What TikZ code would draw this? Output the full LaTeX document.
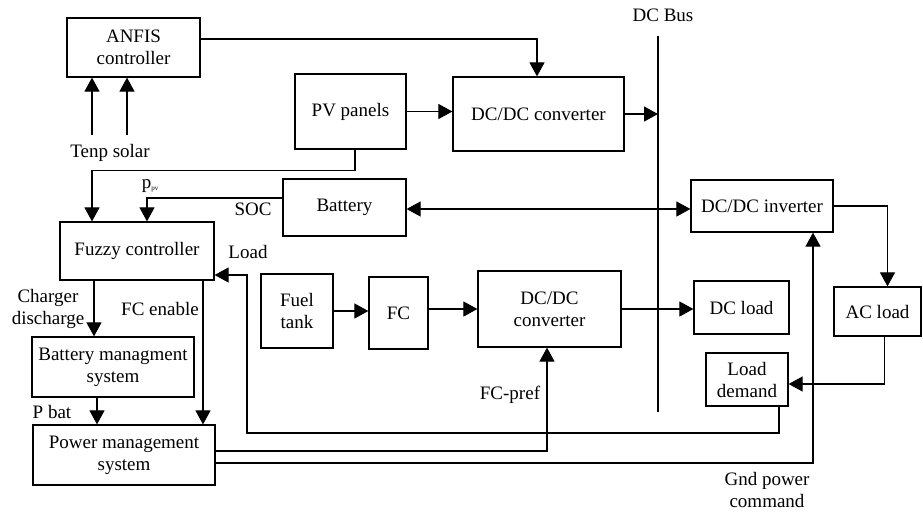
\documentclass[tikz,border=0pt]{standalone}
\usepackage{fontspec}
\setmainfont{Liberation Serif}
\usetikzlibrary{arrows.meta}

\tikzstyle{blk} = [rectangle,align=center,inner sep=0pt,style={draw,line width=1.2pt}]
\tikzstyle{lbl} = [align=center,inner sep=0pt]
\tikzstyle{wire} = [style={line width=1.1pt}]
\tikzstyle{fil} = [-{Triangle[length=14pt,width=15pt]},style={line width=1.1pt}]
\tikzstyle{fil2} = [{Triangle[length=14pt,width=15pt]}-{Triangle[length=14pt,width=15pt]},style={line width=1.1pt}]

\begin{document}
\begin{tikzpicture}[x=1pt,y=-1pt,font=\fontsize{19}{22}\selectfont]
\useasboundingbox (0,0) rectangle (923,512);

% Controllers
	\node[blk,minimum width=133pt,minimum height=59pt] at (133.5,47.5) (anfis) {ANFIS\\controller};
	\node[blk,minimum width=154pt,minimum height=58pt] at (137,251) (fuzzy) {Fuzzy controller};
	\node[blk,minimum width=162pt,minimum height=60pt] at (113,367) (bms) {Battery managment\\system};
	\node[blk,minimum width=182pt,minimum height=60pt] at (124,455) (pms) {Power management\\system};

% Sources
	\node[blk,minimum width=111pt,minimum height=75pt] at (350.5,111.5) (pv) {PV panels};
	\node[blk,minimum width=171pt,minimum height=74pt] at (538.5,114) (conv) {DC/DC converter};
	\node[blk,minimum width=123pt,minimum height=57pt] at (344.5,207.5) (battery) {Battery};
	\node[blk,minimum width=72pt,minimum height=74pt] at (297,311) (tank) {Fuel\\tank};
	\node[blk,minimum width=59pt,minimum height=72pt] at (398.5,313) (fc) {FC};
	\node[blk,minimum width=143pt,minimum height=76pt] at (549.5,309) (convfc) {DC/DC\\converter};

% Loads
	\node[blk,minimum width=142pt,minimum height=52pt] at (762,206) (inverter) {DC/DC inverter};
	\node[blk,minimum width=95pt,minimum height=53pt] at (741.5,307.5) (dcload) {DC load};
	\node[blk,minimum width=87pt,minimum height=49pt] at (877.5,311.5) (acload) {AC load};
	\node[blk,minimum width=82pt,minimum height=53pt] at (747,379.5) (demand) {Load\\demand};

% DC bus
	\coordinate (bustop) at (658,36);
	\coordinate (busbot) at (658,412);
	\draw[wire] (bustop) -- (busbot);
	\node[lbl] at (663,15) (buslbl) {DC Bus};

% Labels
	\node[lbl] at (110,153) (tenp) {Tenp solar};
	\node[lbl] at (150,186) (ppv) {p\raisebox{-2.5pt}{\fontsize{7}{8}\selectfont pv}};
	\node[lbl] at (253,209) (soc) {SOC};
	\node[lbl] at (248,252) (loadlbl) {Load};
	\node[lbl] at (48,309) (chg) {Charger\\discharge};
	\node[lbl] at (160,309) (fcen) {FC enable};
	\node[lbl] at (52,412) (pbat) {P bat};
	\node[lbl] at (510,395) (fcpref) {FC-pref};
	\node[lbl] at (767,490) (gnd) {Gnd power\\command};

% ANFIS inputs and output
	\coordinate (ts1) at (92,135);
	\coordinate (ts2) at (127,135);
	\draw[fil] (ts1) -- (ts1 |- anfis.south);
	\draw[fil] (ts2) -- (ts2 |- anfis.south);
	\draw[fil] ([yshift=8.5pt]anfis.east) -| ([xshift=-1.5pt]conv.north);

% Power paths
	\draw[fil] (pv) -- (conv.west |- pv);
	\draw[fil] (conv.east) -- (conv.east -| bustop);
	\draw[fil2] ([yshift=-1.5pt]battery.east) -- ([yshift=-1.5pt]battery.east -| inverter.west);
	\draw[fil] (tank.east) -- (tank.east -| fc.west);
	\draw[fil] (convfc.west -| fc.east) -- (convfc.west);
	\draw[fil] (convfc.east) -- (convfc.east -| dcload.west);
	\draw[fil] (inverter.east) -| ([xshift=10pt]acload.north);
	\draw[fil] ([xshift=7pt]acload.south) |- ([yshift=-4.5pt]demand.east);

% Measurements to fuzzy controller
	\draw[fil] ([xshift=4.5pt]pv.south) -- ++(0,21) -| ([xshift=-45pt]fuzzy.north);
	\draw[fil] ([yshift=9.5pt]battery.west) -| ([xshift=10pt]fuzzy.north);
	\coordinate (ldturn) at (247,433);
	\draw[fil] ([xshift=32pt]demand.south) |- (ldturn) |- ([yshift=-24pt]fuzzy.east);

% Control signals
	\draw[fil] ([xshift=-43pt]fuzzy.south) -- ([xshift=-43pt]fuzzy.south |- bms.north);
	\draw[fil] ([xshift=66pt]fuzzy.south) -- ([xshift=66pt]fuzzy.south |- pms.north);
	\draw[fil] ([xshift=-16pt]bms.south) -- ([xshift=-16pt]bms.south |- pms.north);
	\draw[fil] ([yshift=4pt]pms.east) -| ([xshift=-2.5pt]convfc.south);
	\draw[fil] ([yshift=-8pt]pms.east) -| ([xshift=51pt]inverter.south);

\end{tikzpicture}
\end{document}
